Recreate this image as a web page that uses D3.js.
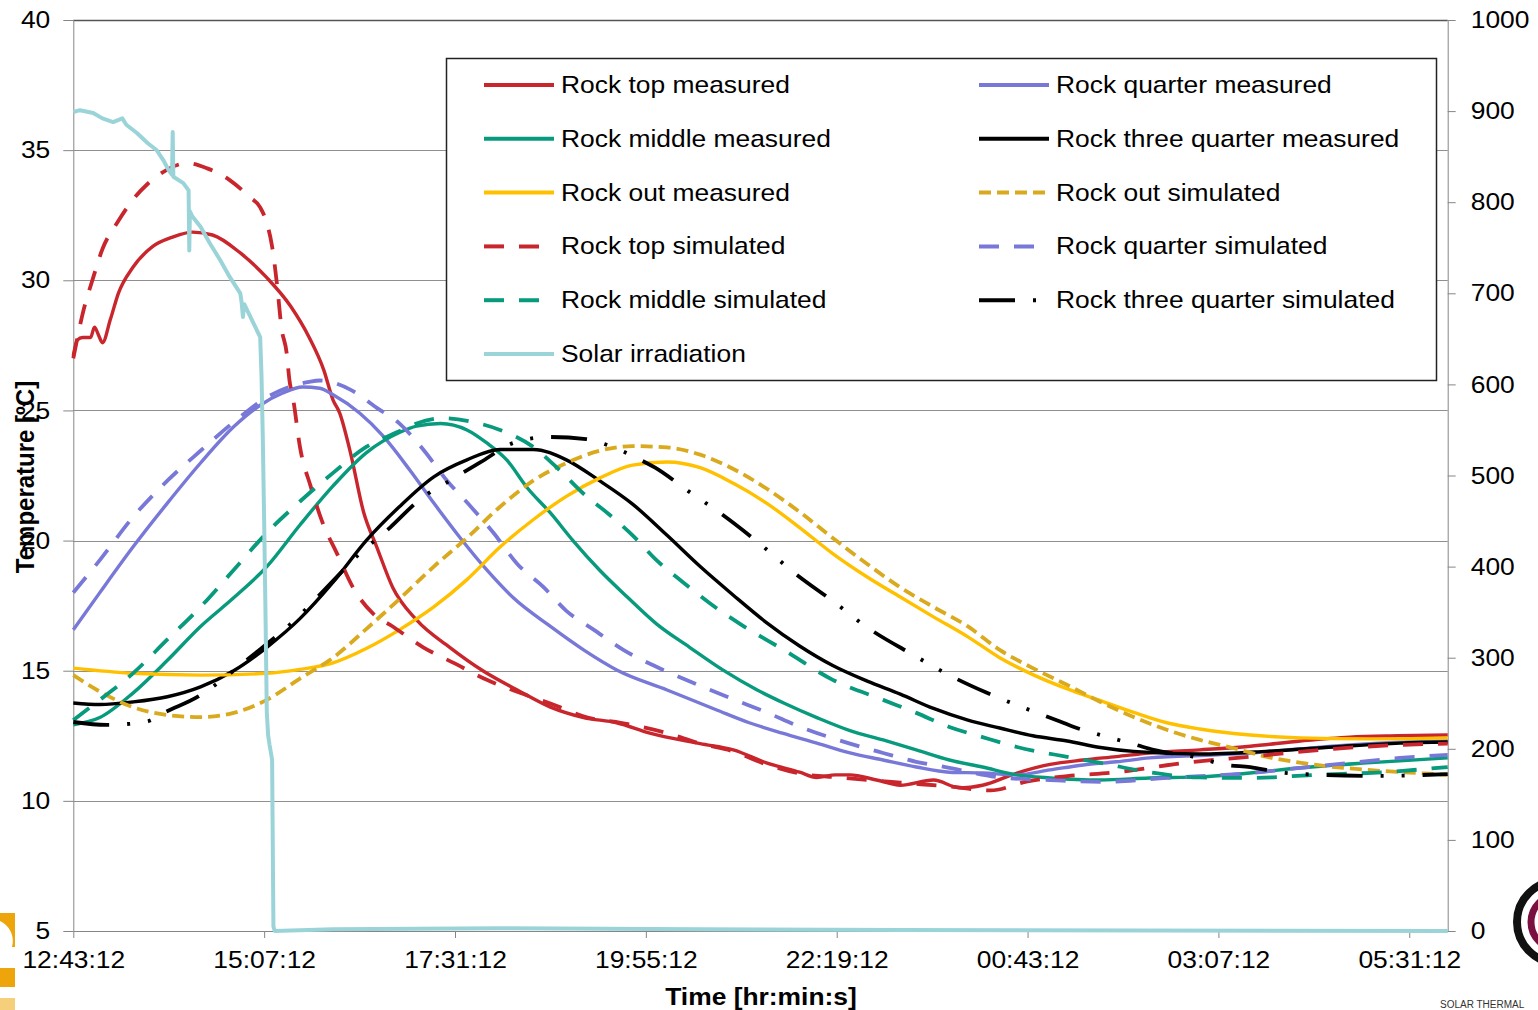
<!DOCTYPE html>
<html>
<head>
<meta charset="utf-8">
<script src="https://cdn.jsdelivr.net/npm/d3@7"></script>
<style>
  body { margin: 0; background: #fff; }
  svg { display: block; }
</style>
</head>
<body>
<svg id="chart" width="1538" height="1010"></svg>
<script>
// -------------------
// data: [minutes after 12:43:12, value]

const startTime = "12:43:12"
const endTime = "06:00:12"
const timeTicks = ["12:43:12", "15:07:12", "17:31:12", "19:55:12", "22:19:12", "00:43:12", "03:07:12", "05:31:12"]
const tempTicks = [5, 10, 15, 20, 25, 30, 35, 40]
const solarTicks = [0, 100, 200, 300, 400, 500, 600, 700, 800, 900, 1000]

const rockTopMeasured = [[0, 27.1], [3, 27.7], [7, 27.8], [13, 27.8], [16, 28.2], [19, 27.9], [22, 27.6], [28, 28.5], [34, 29.5], [45, 30.5], [60, 31.3], [75, 31.66], [90, 31.85], [105, 31.74], [126, 31.05], [146, 30.1], [164, 29.0], [178, 27.8], [189, 26.55], [196, 25.4], [201, 24.9], [209, 23.4], [219, 21.1], [229, 19.75], [241, 18.2], [259, 16.95], [284, 15.9], [309, 15.0], [335, 14.26], [360, 13.6], [385, 13.2], [410, 13.0], [435, 12.6], [473, 12.2], [498, 11.96], [523, 11.46], [548, 11.1], [561, 10.9], [575, 11.0], [586, 11.0], [606, 10.8], [624, 10.6], [649, 10.8], [669, 10.5], [686, 10.6], [712, 11.07], [737, 11.4], [762, 11.57], [787, 11.7], [812, 11.84], [850, 11.96], [888, 12.1], [926, 12.3], [963, 12.45], [1000, 12.5], [1037, 12.53]]
const rockQuarterMeasured = [[0, 16.57], [20, 18.0], [45, 19.75], [71, 21.44], [96, 22.98], [121, 24.37], [141, 25.2], [158, 25.67], [173, 25.9], [186, 25.85], [196, 25.6], [216, 24.9], [234, 24.0], [254, 22.7], [272, 21.44], [292, 20.1], [312, 18.87], [332, 17.8], [360, 16.7], [385, 15.8], [410, 15.03], [448, 14.26], [485, 13.5], [510, 13.0], [535, 12.6], [561, 12.22], [586, 11.84], [611, 11.57], [636, 11.3], [661, 11.1], [686, 11.07], [712, 11.0], [737, 11.19], [762, 11.38], [787, 11.5], [812, 11.65], [863, 11.77], [888, 11.84], [926, 12.0], [963, 12.15], [1000, 12.25], [1037, 12.3]]
const rockMiddleMeasured = [[0, 12.92], [20, 13.2], [45, 14.14], [71, 15.4], [96, 16.7], [121, 17.8], [146, 19.0], [171, 20.6], [196, 22.1], [221, 23.37], [246, 24.15], [259, 24.4], [277, 24.5], [297, 24.25], [312, 23.75], [327, 23.1], [342, 22.06], [360, 21.06], [377, 20.0], [397, 18.87], [418, 17.83], [440, 16.8], [465, 15.9], [490, 15.03], [516, 14.26], [536, 13.76], [561, 13.2], [586, 12.7], [611, 12.34], [636, 11.96], [661, 11.57], [686, 11.3], [712, 11.0], [737, 10.88], [775, 10.8], [812, 10.88], [850, 10.92], [888, 11.07], [926, 11.27], [976, 11.46], [1037, 11.65]]
const rockThreeQuarterMeasured = [[0, 13.76], [20, 13.7], [45, 13.8], [71, 14.0], [96, 14.38], [121, 15.0], [146, 15.9], [171, 17.0], [196, 18.4], [221, 20.0], [246, 21.3], [272, 22.45], [297, 23.1], [322, 23.5], [347, 23.5], [372, 23.1], [397, 22.3], [422, 21.4], [448, 20.2], [473, 19.0], [498, 17.9], [523, 16.85], [548, 15.95], [573, 15.2], [599, 14.6], [624, 14.1], [649, 13.55], [675, 13.1], [699, 12.8], [724, 12.5], [750, 12.3], [775, 12.05], [800, 11.9], [850, 11.8], [900, 11.9], [951, 12.07], [1001, 12.22], [1037, 12.26]]
const rockOutMeasured = [[0, 15.1], [45, 14.9], [96, 14.83], [146, 14.9], [171, 15.05], [196, 15.3], [221, 15.85], [246, 16.57], [272, 17.45], [297, 18.5], [322, 19.75], [347, 20.8], [372, 21.7], [397, 22.4], [422, 22.9], [448, 23.02], [473, 22.8], [498, 22.2], [523, 21.44], [548, 20.5], [573, 19.5], [599, 18.6], [624, 17.83], [649, 17.07], [675, 16.3], [699, 15.5], [724, 14.85], [750, 14.3], [775, 13.85], [800, 13.4], [825, 13.0], [850, 12.76], [888, 12.53], [926, 12.42], [976, 12.38], [1037, 12.42]]
const rockOutSimulated = [[0, 14.83], [20, 14.2], [45, 13.6], [71, 13.3], [96, 13.22], [121, 13.38], [146, 13.88], [171, 14.7], [196, 15.5], [221, 16.6], [246, 17.75], [272, 19.0], [297, 20.1], [322, 21.3], [347, 22.3], [372, 22.98], [397, 23.45], [422, 23.63], [448, 23.58], [473, 23.3], [498, 22.75], [523, 22.0], [548, 21.1], [573, 20.1], [599, 19.1], [624, 18.2], [649, 17.45], [675, 16.7], [699, 15.8], [724, 15.1], [750, 14.45], [775, 13.8], [800, 13.22], [825, 12.73], [850, 12.34], [875, 12.03], [900, 11.7], [938, 11.38], [976, 11.19], [1014, 11.07], [1037, 11.0]]
const rockTopSimulated = [[0, 27.0], [7, 28.7], [15, 30.1], [22, 31.2], [33, 32.2], [45, 33.1], [56, 33.7], [66, 34.1], [86, 34.5], [101, 34.3], [118, 33.85], [133, 33.2], [141, 32.8], [146, 32.2], [150, 31.3], [154, 29.7], [157, 28.2], [161, 27.2], [163, 26.2], [166, 25.4], [171, 23.6], [179, 22.1], [188, 20.7], [199, 19.5], [211, 18.2], [226, 17.2], [241, 16.7], [264, 15.9], [287, 15.3], [312, 14.65], [337, 14.15], [362, 13.7], [388, 13.2], [413, 13.0], [448, 12.6], [473, 12.2], [498, 11.9], [523, 11.4], [548, 11.05], [578, 10.9], [624, 10.7], [661, 10.55], [692, 10.4], [720, 10.75], [750, 10.95], [787, 11.1], [837, 11.45], [888, 11.7], [951, 12.0], [1001, 12.15], [1037, 12.2]]
const rockQuarterSimulated = [[0, 18.0], [20, 19.25], [45, 20.9], [71, 22.3], [96, 23.45], [121, 24.55], [146, 25.5], [178, 26.1], [186, 26.15], [209, 25.8], [229, 25.1], [246, 24.5], [264, 23.5], [282, 22.3], [300, 21.3], [317, 20.3], [335, 19.1], [355, 18.2], [372, 17.3], [392, 16.6], [415, 15.8], [440, 15.15], [468, 14.53], [498, 13.9], [523, 13.4], [548, 12.85], [586, 12.2], [611, 11.84], [636, 11.5], [661, 11.27], [699, 10.9], [737, 10.8], [775, 10.73], [825, 10.88], [888, 11.07], [926, 11.27], [963, 11.46], [1001, 11.65], [1037, 11.77]]
const rockMiddleSimulated = [[0, 13.1], [20, 13.88], [45, 14.9], [71, 16.2], [96, 17.45], [121, 18.87], [146, 20.3], [171, 21.5], [196, 22.6], [221, 23.6], [246, 24.2], [259, 24.5], [279, 24.7], [302, 24.55], [322, 24.25], [347, 23.6], [367, 22.7], [385, 21.8], [403, 21.06], [422, 20.2], [440, 19.25], [460, 18.4], [480, 17.6], [503, 16.8], [536, 15.8], [573, 14.65], [611, 13.88], [636, 13.38], [661, 12.84], [686, 12.45], [712, 12.07], [750, 11.69], [775, 11.46], [812, 11.1], [850, 10.9], [888, 10.88], [938, 11.0], [988, 11.1], [1037, 11.3]]
const rockThreeQuarterSimulated = [[0, 13.03], [25, 12.92], [40, 12.95], [56, 13.05], [69, 13.4], [94, 14.0], [107, 14.45], [133, 15.5], [164, 16.8], [196, 18.45], [214, 19.4], [239, 20.5], [262, 21.6], [284, 22.3], [307, 23.0], [332, 23.75], [358, 23.98], [387, 23.9], [403, 23.67], [428, 23.1], [439, 22.8], [464, 21.9], [488, 21.06], [521, 19.75], [543, 18.8], [575, 17.6], [598, 16.7], [634, 15.6], [659, 14.88], [688, 14.18], [716, 13.6], [742, 13.1], [755, 12.84], [775, 12.53], [802, 12.15], [815, 11.96], [845, 11.7], [870, 11.38], [888, 11.3], [910, 11.1], [942, 11.0], [985, 10.96], [1037, 11.03]]
const solarIrradiation = [[0, 899], [5, 901], [15, 898], [22, 892], [30, 888], [37, 892], [40, 885], [48, 876], [56, 865], [63, 857], [68, 846], [72, 835], [74.5, 830], [75, 877], [75.5, 828], [83, 821], [87, 813], [87.5, 747], [88, 790], [90, 784], [96, 773], [103, 755], [111, 736], [118, 718], [126, 700], [127, 690], [128, 674], [129, 688], [136, 667], [141, 652], [142, 610], [143, 540], [144, 450], [145, 350], [146, 240], [147, 215], [148, 205], [150, 188], [151, 5], [152, 0], [196, 2], [322, 3], [473, 2], [624, 1], [1037, 0]]

// -------------------
// series styles (legend order, two columns)

const series = [
  { name: "Rock top measured", data: rockTopMeasured, color: "#c8262c", dash: null },
  { name: "Rock quarter measured", data: rockQuarterMeasured, color: "#7878d8", dash: null },
  { name: "Rock middle measured", data: rockMiddleMeasured, color: "#079a7c", dash: null },
  { name: "Rock three quarter measured", data: rockThreeQuarterMeasured, color: "#000000", dash: null },
  { name: "Rock out measured", data: rockOutMeasured, color: "#ffc000", dash: null },
  { name: "Rock out simulated", data: rockOutSimulated, color: "#d9a91e", dash: "12,6" },
  { name: "Rock top simulated", data: rockTopSimulated, color: "#c8262c", dash: "20,15" },
  { name: "Rock quarter simulated", data: rockQuarterSimulated, color: "#7878d8", dash: "20,15" },
  { name: "Rock middle simulated", data: rockMiddleSimulated, color: "#079a7c", dash: "20,15" },
  { name: "Rock three quarter simulated", data: rockThreeQuarterSimulated, color: "#000000", dash: "36,18,3,18,3,18" },
  { name: "Solar irradiation", data: solarIrradiation, color: "#9bd4d8", dash: null, right: true },
]

const font = "'Liberation Sans', Arial, sans-serif"
const stretch = 1.1 // text in the picture is a bit wider than normal

// -------------------
// scales

const parseTime = (str) => {
  const [h, m, s] = str.split(":").map(Number)
  const [h0, m0, s0] = startTime.split(":").map(Number)
  let t = Date.UTC(2000, 0, 1, h, m, s)
  if (t < Date.UTC(2000, 0, 1, h0, m0, s0)) t += 86400000
  return new Date(t)
}
const t0 = parseTime(startTime)
const toDate = (min) => new Date(+t0 + min * 60000)

const plot = { left: 73.3, right: 1447.7, top: 20, bottom: 931 }

const x = d3.scaleUtc().domain([t0, parseTime(endTime)]).range([plot.left, plot.right])
const y = d3.scaleLinear().domain([5, 40]).range([plot.bottom, plot.top])
const y2 = d3.scaleLinear().domain([0, 1000]).range([plot.bottom, plot.top])

const svg = d3.select("#chart").attr("font-family", font)

// gridlines

svg.append("g")
  .selectAll("line")
  .data(tempTicks.filter(t => t > 5))
  .join("line")
  .attr("x1", plot.left).attr("x2", plot.right)
  .attr("y1", d => Math.round(y(d)) + 0.5).attr("y2", d => Math.round(y(d)) + 0.5)
  .attr("stroke", d => d === 40 ? "#555" : "#8f8f8f")
  .attr("stroke-width", d => d === 40 ? 1.4 : 1)

// axes

const styleAxis = g => {
  g.attr("font-size", 24).attr("font-family", font).attr("color", "#868686")
  g.selectAll(".tick text").attr("fill", "#000")
}

svg.append("g")
  .attr("transform", `translate(0,${plot.bottom})`)
  .call(d3.axisBottom(x).tickValues(timeTicks.map(parseTime)).tickFormat((d, i) => timeTicks[i]).tickSize(7).tickSizeOuter(0))
  .call(styleAxis)
  .call(g => g.selectAll(".tick text").attr("y", 37).attr("dy", null).attr("transform", `scale(${stretch},1)`))

svg.append("g")
  .attr("transform", `translate(${plot.left},0)`)
  .call(d3.axisLeft(y).tickValues(tempTicks).tickSize(10).tickSizeOuter(0))
  .call(styleAxis)
  .call(g => g.selectAll(".tick text").attr("x", 0).attr("transform", `translate(-23,0) scale(${stretch},1)`))

svg.append("g")
  .attr("transform", `translate(${plot.right},0)`)
  .call(d3.axisRight(y2).tickValues(solarTicks).tickFormat(d3.format("d")).tickSize(8).tickSizeOuter(0))
  .call(styleAxis)
  .call(g => g.selectAll(".tick text").attr("x", 0).attr("transform", `translate(23,0) scale(${stretch},1)`))

// axis titles

svg.append("text")
  .attr("transform", `translate(761,1005) scale(${stretch},1)`)
  .attr("text-anchor", "middle")
  .attr("font-size", 24).attr("font-weight", "bold")
  .text("Time [hr:min:s]")

svg.append("text")
  .attr("transform", `translate(34,477) rotate(-90) scale(1,${stretch})`)
  .attr("text-anchor", "middle")
  .attr("font-size", 24).attr("font-weight", "bold")
  .text("Temperature [ºC]")

// lines

const lineFor = (s) => d3.line()
  .x(d => x(toDate(d[0])))
  .y(d => (s.right ? y2 : y)(d[1]))
  .curve(s.right ? d3.curveLinear : d3.curveMonotoneX)

svg.append("g")
  .selectAll("path")
  .data(series)
  .join("path")
  .attr("d", s => lineFor(s)(s.data))
  .attr("fill", "none")
  .attr("stroke", s => s.color)
  .attr("stroke-width", s => s.right ? 4 : (s.dash ? 3.8 : 3.4))
  .attr("stroke-dasharray", s => s.dash)
  .attr("stroke-linejoin", "round")

// legend

const legend = svg.append("g")
legend.append("rect")
  .attr("x", 446.5).attr("y", 58.5).attr("width", 990).attr("height", 322)
  .attr("fill", "#fff").attr("stroke", "#222").attr("stroke-width", 1.5)

series.forEach((s, i) => {
  const lx = i % 2 ? 979 : 484
  const ly = 85 + Math.floor(i / 2) * 53.8
  legend.append("line")
    .attr("x1", lx).attr("x2", lx + 70).attr("y1", ly).attr("y2", ly)
    .attr("stroke", s.color).attr("stroke-width", 4)
    .attr("stroke-dasharray", s.dash)
  legend.append("text")
    .attr("transform", `translate(${lx + 77},${ly + 8}) scale(${stretch},1)`)
    .attr("font-size", 24)
    .text(s.name)
})

// bits of the slide around the chart

const deco = svg.append("g")
deco.append("path").attr("d", "M0,913H15V947H12A22,22 0 0 0 0,921Z").attr("fill", "#eea50c")
deco.append("rect").attr("x", 0).attr("y", 968).attr("width", 15).attr("height", 19).attr("fill", "#eea50c")
deco.append("rect").attr("x", 0).attr("y", 998).attr("width", 15).attr("height", 12).attr("fill", "#f6cf7a")
deco.append("circle").attr("cx", 1558).attr("cy", 922).attr("r", 41).attr("fill", "none").attr("stroke", "#111").attr("stroke-width", 8)
deco.append("circle").attr("cx", 1558).attr("cy", 922).attr("r", 27).attr("fill", "none").attr("stroke", "#7a1040").attr("stroke-width", 7)
deco.append("text").attr("x", 1440).attr("y", 1008).attr("font-size", 10).attr("fill", "#333").text("SOLAR THERMAL")
</script>
</body>
</html>
